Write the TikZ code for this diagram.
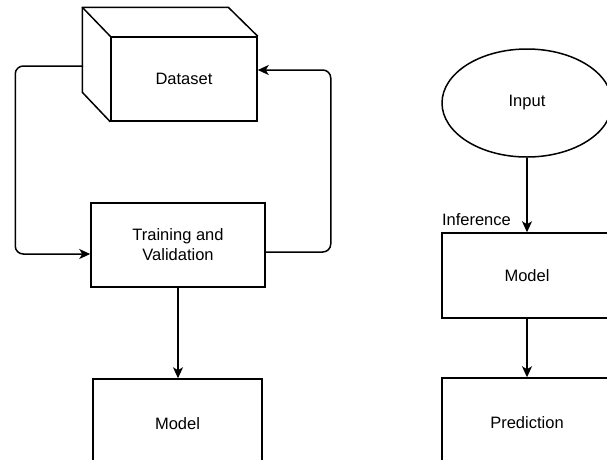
\documentclass[tikz,border=0pt]{standalone}
\usepackage{fontspec}
\setmainfont{Liberation Sans}
\usetikzlibrary{arrows.meta,shapes.geometric}
\begin{document}
\begin{tikzpicture}[x=1pt, y=-1pt, line width=1.5pt,
    txt/.style={font=\fontsize{16.5}{20}\selectfont},
    box/.style={draw, rectangle, txt, align=center, minimum width=170pt, minimum height=85pt},
    arr/.style={-{Stealth[length=11pt, width=10pt, inset=3pt]}}]
    % 画布范围
    \useasboundingbox (0,0) rectangle (607,459);
    \clip (0,0) rectangle (607,459);

    % 数据集 (立方体)
    \node[box, minimum width=146pt, minimum height=84pt] (dataset) at (184,79) {Dataset};
    \draw[line join=round] (dataset.north west) -- ++(-28,-29) coordinate (bnw)
        -- ++(146,0) -- (dataset.north east);
    \draw[line join=round] (bnw) -- ++(0,85) -- (dataset.south west);
    \coordinate (dsleft) at (83,66);

    % 训练与验证, 模型
    \node[box, minimum width=174pt, minimum height=84pt] (train) at (178,245) {Training and\\Validation};
    \node[box, minimum width=169pt, minimum height=90pt] (model) at (177.5,424) {Model};

    % 左右两条回路
    \draw[arr, rounded corners=8pt] (dsleft) -| ([xshift=-75pt, yshift=-9pt]train.west)
        -- ([yshift=-9pt]train.west);
    \draw[arr, rounded corners=8pt] ([yshift=-7pt]train.east) -- ++(65,0)
        |- ([yshift=9pt]dataset.east);
    \draw[arr] (train.south) -- (train.south |- model.north);

    % 推理部分
    \node[draw, ellipse, txt, minimum width=170pt, minimum height=108pt] (input) at (527,103) {Input};
    \node[box] (infer) at (527,275.5) {Model};
    \node[txt, anchor=base west, inner sep=0pt] (inflabel) at ([yshift=7pt]infer.north west) {Inference};
    \node[box, minimum height=90pt] (pred) at (527,423) {Prediction};

    \draw[arr] (input) -- (infer);
    \draw[arr] (infer) -- (pred);
\end{tikzpicture}
\end{document}
